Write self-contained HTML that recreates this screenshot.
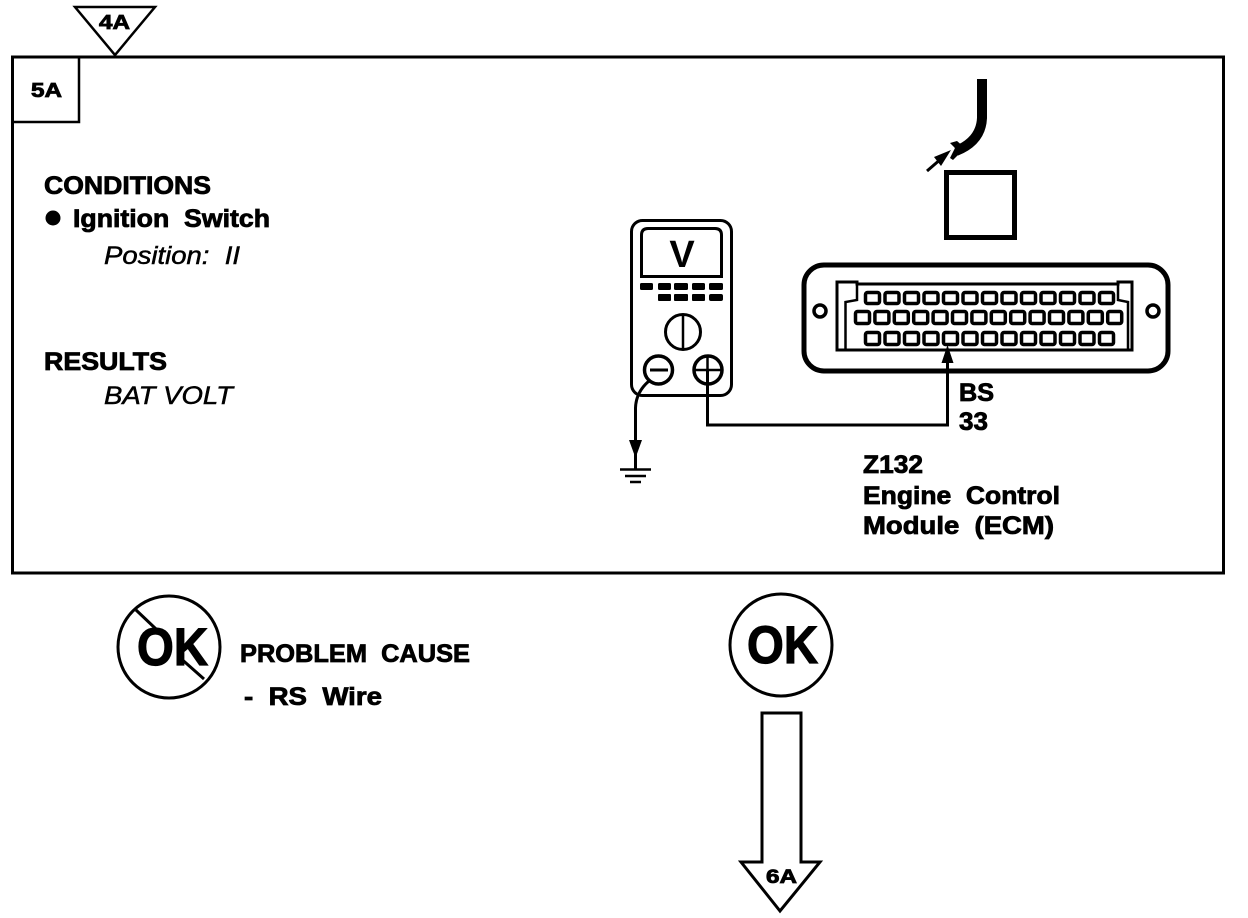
<!DOCTYPE html>
<html>
<head>
<meta charset="utf-8">
<title>Diagram 5A</title>
<style>
html,body{margin:0;padding:0;background:#fff;width:1248px;height:918px;overflow:hidden}
svg{display:block}
text{font-family:"Liberation Sans",sans-serif;fill:#000}
.b{font-weight:bold;stroke:#000;stroke-width:.8}
.i{font-style:italic;stroke:#000;stroke-width:.5}
.k{font-weight:bold;stroke:#000;stroke-width:1.2}
.p rect{fill:#fff;stroke:#000;stroke-width:3.5}
</style>
</head>
<body>
<svg width="1248" height="918" viewBox="0 0 1248 918" xmlns="http://www.w3.org/2000/svg">
<rect width="1248" height="918" fill="#fff"/>

<!-- frame -->
<rect x="12.5" y="57" width="1211" height="516" fill="none" stroke="#000" stroke-width="3"/>
<path d="M13,122 H79 V57" fill="none" stroke="#000" stroke-width="2.5"/>
<path d="M75,7 H155 L115,55 Z" fill="#fff" stroke="#000" stroke-width="2.5"/>
<text class="b" x="99" y="29" font-size="20" textLength="31" lengthAdjust="spacingAndGlyphs">4A</text>
<text class="b" x="31" y="97" font-size="20" textLength="31" lengthAdjust="spacingAndGlyphs">5A</text>

<!-- left text -->
<text class="b" x="44" y="194" font-size="25" textLength="167" lengthAdjust="spacingAndGlyphs">CONDITIONS</text>
<circle cx="53" cy="218" r="7.5" fill="#000"/>
<text class="b" x="73" y="227" font-size="25" textLength="197" lengthAdjust="spacingAndGlyphs" xml:space="preserve">Ignition  Switch</text>
<text class="i" x="104" y="264" font-size="25" textLength="136" lengthAdjust="spacingAndGlyphs" xml:space="preserve">Position:  II</text>
<text class="b" x="44" y="370" font-size="25" textLength="123" lengthAdjust="spacingAndGlyphs">RESULTS</text>
<text class="i" x="104" y="404" font-size="25" textLength="129" lengthAdjust="spacingAndGlyphs">BAT VOLT</text>

<!-- meter -->
<rect x="631.5" y="220.5" width="100" height="175" rx="11" fill="#fff" stroke="#000" stroke-width="3"/>
<path d="M641.5,276.5 V235 Q641.5,228.5 648,228.5 H715 Q721.5,228.5 721.5,235 V276.5 Z" fill="none" stroke="#000" stroke-width="3"/>
<text x="682" y="267" font-size="38" font-weight="bold" text-anchor="middle">V</text>
<g fill="#000">
<rect x="640" y="283" width="13" height="7" rx="1.5"/><rect x="658" y="283" width="13" height="7" rx="1.5"/><rect x="674" y="283" width="14" height="7" rx="1.5"/><rect x="692" y="283" width="13" height="7" rx="1.5"/><rect x="709" y="283" width="14" height="7" rx="1.5"/>
<rect x="658" y="294" width="13" height="7" rx="1"/><rect x="674" y="294" width="14" height="7" rx="1"/><rect x="692" y="294" width="13" height="7" rx="1"/><rect x="709" y="294" width="14" height="7" rx="2"/>
</g>
<circle cx="683" cy="332" r="17.5" fill="none" stroke="#000" stroke-width="3"/>
<path d="M683,314 V350" stroke="#000" stroke-width="2.5"/>
<circle cx="658.5" cy="370" r="14" fill="#fff" stroke="#000" stroke-width="3.5"/>
<path d="M650,370 H668" stroke="#000" stroke-width="3"/>
<circle cx="708" cy="370" r="14" fill="#fff" stroke="#000" stroke-width="3.5"/>
<path d="M694,370 H722 M707.5,356 V384" stroke="#000" stroke-width="2.5"/>

<!-- wires -->
<path d="M707.5,370 V425 H947.5 V362" fill="none" stroke="#000" stroke-width="3"/>
<path d="M649,381 Q636,392 635.5,408 V469" fill="none" stroke="#000" stroke-width="3"/>
<path d="M629,440 H642 L635.5,458 Z" fill="#000"/>
<path d="M620,469.5 H651 M625,476 H646 M630,482 H641" stroke="#000" stroke-width="2.5"/>

<!-- ECM connector -->
<rect x="804" y="265" width="364" height="106" rx="20" fill="#fff" stroke="#000" stroke-width="5"/>
<circle cx="820" cy="311" r="6" fill="#fff" stroke="#000" stroke-width="3.5"/>
<circle cx="1153" cy="311" r="6" fill="#fff" stroke="#000" stroke-width="3.5"/>
<path d="M837,350 V282 H857 V284 H1118 V282 H1132 V350 Z" fill="none" stroke="#000" stroke-width="3"/>
<path d="M857,284 V300 L845.5,302 V350 M1118,284 V300 L1128,302 V350" fill="none" stroke="#000" stroke-width="2.5"/>
<g class="p">
<rect x="865.5" y="292.5" width="14" height="11" rx="2"/><rect x="885" y="292.5" width="14" height="11" rx="2"/><rect x="904.5" y="292.5" width="14" height="11" rx="2"/><rect x="924" y="292.5" width="14" height="11" rx="2"/><rect x="943.5" y="292.5" width="14" height="11" rx="2"/><rect x="963" y="292.5" width="14" height="11" rx="2"/><rect x="982.5" y="292.5" width="14" height="11" rx="2"/><rect x="1002" y="292.5" width="14" height="11" rx="2"/><rect x="1021.5" y="292.5" width="14" height="11" rx="2"/><rect x="1041" y="292.5" width="14" height="11" rx="2"/><rect x="1060.5" y="292.5" width="14" height="11" rx="2"/><rect x="1080" y="292.5" width="14" height="11" rx="2"/><rect x="1099.5" y="292.5" width="14" height="11" rx="2"/>
<rect x="855.5" y="311.5" width="14" height="12" rx="2"/><rect x="874.9" y="311.5" width="14" height="12" rx="2"/><rect x="894.3" y="311.5" width="14" height="12" rx="2"/><rect x="913.7" y="311.5" width="14" height="12" rx="2"/><rect x="933.1" y="311.5" width="14" height="12" rx="2"/><rect x="952.5" y="311.5" width="14" height="12" rx="2"/><rect x="971.9" y="311.5" width="14" height="12" rx="2"/><rect x="991.3" y="311.5" width="14" height="12" rx="2"/><rect x="1010.7" y="311.5" width="14" height="12" rx="2"/><rect x="1030.1" y="311.5" width="14" height="12" rx="2"/><rect x="1049.5" y="311.5" width="14" height="12" rx="2"/><rect x="1068.9" y="311.5" width="14" height="12" rx="2"/><rect x="1088.3" y="311.5" width="14" height="12" rx="2"/><rect x="1107.7" y="311.5" width="14" height="12" rx="2"/>
<rect x="865.5" y="332.5" width="14" height="12" rx="2"/><rect x="885" y="332.5" width="14" height="12" rx="2"/><rect x="904.5" y="332.5" width="14" height="12" rx="2"/><rect x="924" y="332.5" width="14" height="12" rx="2"/><rect x="943.5" y="332.5" width="14" height="12" rx="2"/><rect x="963" y="332.5" width="14" height="12" rx="2"/><rect x="982.5" y="332.5" width="14" height="12" rx="2"/><rect x="1002" y="332.5" width="14" height="12" rx="2"/><rect x="1021.5" y="332.5" width="14" height="12" rx="2"/><rect x="1041" y="332.5" width="14" height="12" rx="2"/><rect x="1060.5" y="332.5" width="14" height="12" rx="2"/><rect x="1080" y="332.5" width="14" height="12" rx="2"/><rect x="1099.5" y="332.5" width="14" height="12" rx="2"/>
</g>
<path d="M947.5,345 L941.5,363 H953.5 Z" fill="#000"/>
<path d="M947.5,360 V375" stroke="#000" stroke-width="3"/>

<!-- probe wire -->
<path d="M982,79 V118 Q981,141 956,151" fill="none" stroke="#000" stroke-width="10"/>
<path d="M950,143 L957,141 L965,148 L953,160 L950,158 L955,148 Z" fill="#000"/>
<path d="M927,171 L942,158" stroke="#000" stroke-width="3"/>
<path d="M951,150 L934,157 L941,166 Z" fill="#000"/>
<rect x="946.5" y="172.5" width="68" height="65" fill="#fff" stroke="#000" stroke-width="5"/>

<!-- right labels -->
<text class="b" x="959" y="401" font-size="25" textLength="35" lengthAdjust="spacingAndGlyphs">BS</text>
<text class="b" x="959" y="430" font-size="25" textLength="29" lengthAdjust="spacingAndGlyphs">33</text>
<text class="b" x="863" y="473" font-size="25" textLength="60" lengthAdjust="spacingAndGlyphs">Z132</text>
<text class="b" x="863" y="504" font-size="25" textLength="197" lengthAdjust="spacingAndGlyphs" xml:space="preserve">Engine  Control</text>
<text class="b" x="863" y="534" font-size="25" textLength="191" lengthAdjust="spacingAndGlyphs" xml:space="preserve">Module  (ECM)</text>

<!-- not OK -->
<circle cx="169" cy="647" r="51" fill="none" stroke="#000" stroke-width="3"/>
<path d="M136,610 L156,629 M178,656 L204,679" stroke="#000" stroke-width="3"/>
<text class="k" x="137" y="665" font-size="53" textLength="71" lengthAdjust="spacingAndGlyphs">OK</text>
<text class="b" x="240" y="662" font-size="25" textLength="230" lengthAdjust="spacingAndGlyphs" xml:space="preserve">PROBLEM  CAUSE</text>
<text class="b" x="244" y="705" font-size="25" textLength="138" lengthAdjust="spacingAndGlyphs" xml:space="preserve">-  RS  Wire</text>

<!-- OK -->
<circle cx="781" cy="645" r="51" fill="none" stroke="#000" stroke-width="3"/>
<text class="k" x="747" y="663" font-size="53" textLength="71" lengthAdjust="spacingAndGlyphs">OK</text>

<!-- down arrow -->
<path d="M762,713 H801 V862 H820 L780,911 L741,862 H762 Z" fill="#fff" stroke="#000" stroke-width="3"/>
<text class="b" x="766" y="883" font-size="19" textLength="31" lengthAdjust="spacingAndGlyphs">6A</text>
</svg>
</body>
</html>
